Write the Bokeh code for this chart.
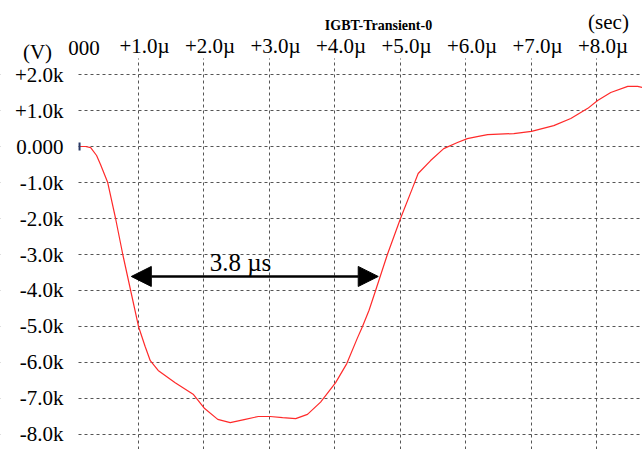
from bokeh.plotting import figure
from bokeh.models import FixedTicker, Label, Arrow, NormalHead, Range1d, BoxAnnotation
from bokeh.embed import file_html
from bokeh.resources import INLINE

# Trace: time in microseconds, voltage in kV
time_us = [0.10, 0.19, 0.27, 0.36, 0.42, 0.53, 0.65, 0.76, 0.88, 1.00,
           1.10, 1.18, 1.30, 1.56, 1.84, 2.01, 2.21, 2.40, 2.63, 2.83,
           3.01, 3.20, 3.40, 3.58, 3.78, 4.01, 4.18, 4.34, 4.42, 4.52,
           4.62, 4.80, 5.00, 5.18, 5.27, 5.46, 5.66, 5.87, 6.02, 6.19,
           6.33, 6.73, 7.00, 7.34, 7.60, 7.86, 8.01, 8.21, 8.47, 8.62, 8.69]
volt_kv = [0.00, 0.00, -0.03, -0.25, -0.50, -1.00, -2.00, -3.00, -4.00, -5.00,
           -5.55, -5.95, -6.22, -6.56, -6.89, -7.28, -7.58, -7.67, -7.58, -7.50,
           -7.50, -7.53, -7.56, -7.44, -7.10, -6.56, -6.03, -5.33, -5.00, -4.55,
           -4.00, -3.00, -2.00, -1.17, -0.75, -0.39, -0.06, 0.11, 0.22, 0.28,
           0.33, 0.36, 0.42, 0.58, 0.78, 1.06, 1.28, 1.50, 1.67, 1.67, 1.64]

x_ticks = [1, 2, 3, 4, 5, 6, 7, 8]
x_tick_labels = ["+1.0µ", "+2.0µ", "+3.0µ", "+4.0µ", "+5.0µ", "+6.0µ", "+7.0µ", "+8.0µ"]
y_ticks = [2, 1, 0, -1, -2, -3, -4, -5, -6, -7, -8]
y_tick_labels = ["+2.0k", "+1.0k", "0.000", "-1.0k", "-2.0k", "-3.0k", "-4.0k",
                 "-5.0k", "-6.0k", "-7.0k", "-8.0k"]

# Visible plotting window of the scope (time, volts)
t_start, t_end = 0.0687, 8.695
v_bottom, v_top = -8.417, 2.444
t_canvas_left, v_canvas_top = -1.107, 4.056
label_shift = 0.0916   # scope prints its time labels slightly right of the grid

# Pulse-width annotation
arrow_t = [0.89, 4.66]
arrow_v = -3.61
width_text = "3.8 µs"

FONT = "Liberation Serif"
W, H = 642, 449

# The canvas-wide frame lets the header texts sit outside the scope window;
# the axes are pinned to the window edges.
p = figure(width=W, height=H, output_backend="svg", toolbar_location=None,
           x_axis_location="above",
           x_range=Range1d(t_canvas_left, t_end), y_range=Range1d(v_bottom, v_canvas_top),
           min_border=0)
p.extra_x_ranges = {"xlabels": Range1d(t_canvas_left - label_shift, t_end - label_shift)}
p.title.visible = False
p.outline_line_color = None
p.background_fill_color = "white"
p.border_fill_color = "white"

p.xaxis[0].x_range_name = "xlabels"
p.xaxis[0].fixed_location = v_top
p.yaxis[0].fixed_location = t_start

for ax, ticks, labels, standoff in [(p.xaxis[0], x_ticks, x_tick_labels, 1),
                                    (p.yaxis[0], y_ticks, y_tick_labels, 14)]:
    ax.ticker = FixedTicker(ticks=ticks)
    ax.major_label_overrides = {t: l for t, l in zip(ticks, labels)}
    ax.axis_line_color = None
    ax.major_tick_line_color = None
    ax.minor_tick_line_color = None
    ax.major_tick_out = 0
    ax.major_tick_in = 0
    ax.major_label_text_font = FONT
    ax.major_label_text_font_size = "21px"
    ax.major_label_text_color = "black"
    ax.major_label_standoff = standoff

p.xgrid[0].ticker = FixedTicker(ticks=x_ticks)
p.ygrid[0].ticker = FixedTicker(ticks=y_ticks)
for g in (p.xgrid[0], p.ygrid[0]):
    g.grid_line_color = "#555555"
    g.grid_line_dash = "3 3"
    g.grid_line_width = 1

# keep the grid inside the scope window
p.add_layout(BoxAnnotation(bottom=v_top, fill_color="white", fill_alpha=1,
                           line_alpha=0, level="underlay"))
p.add_layout(BoxAnnotation(right=t_start, fill_color="white", fill_alpha=1,
                           line_alpha=0, level="underlay"))

p.line(time_us, volt_kv, line_color="#ff2a2a", line_width=1.2)
# cursor marker at the start of the trace
p.scatter(time_us[:1], volt_kv[:1], marker="dash", angle=1.5708, size=8,
          line_color="#2b3a67", line_width=2)

p.add_layout(Arrow(start=NormalHead(size=20, fill_color="black", line_color="black"),
                   end=NormalHead(size=20, fill_color="black", line_color="black"),
                   x_start=arrow_t[0], y_start=arrow_v, x_end=arrow_t[1], y_end=arrow_v,
                   line_width=2.5, line_color="black"))

def lab(x, y, text, size="21px", style="normal"):
    p.add_layout(Label(x=x, y=y, text=text, text_font=FONT, text_font_size=size,
                       text_font_style=style, text_align="center", text_baseline="middle",
                       text_color="black"))

lab(2.557, -3.222, width_text, size="25px")
lab(4.664, 3.361, "IGBT-Transient-0", size="14px", style="bold")
lab(8.176, 3.472, "(sec)")
lab(-0.542, 2.639, "(V)")
lab(0.168, 2.75, "000")

open("out.html", "w").write(file_html(p, INLINE))
